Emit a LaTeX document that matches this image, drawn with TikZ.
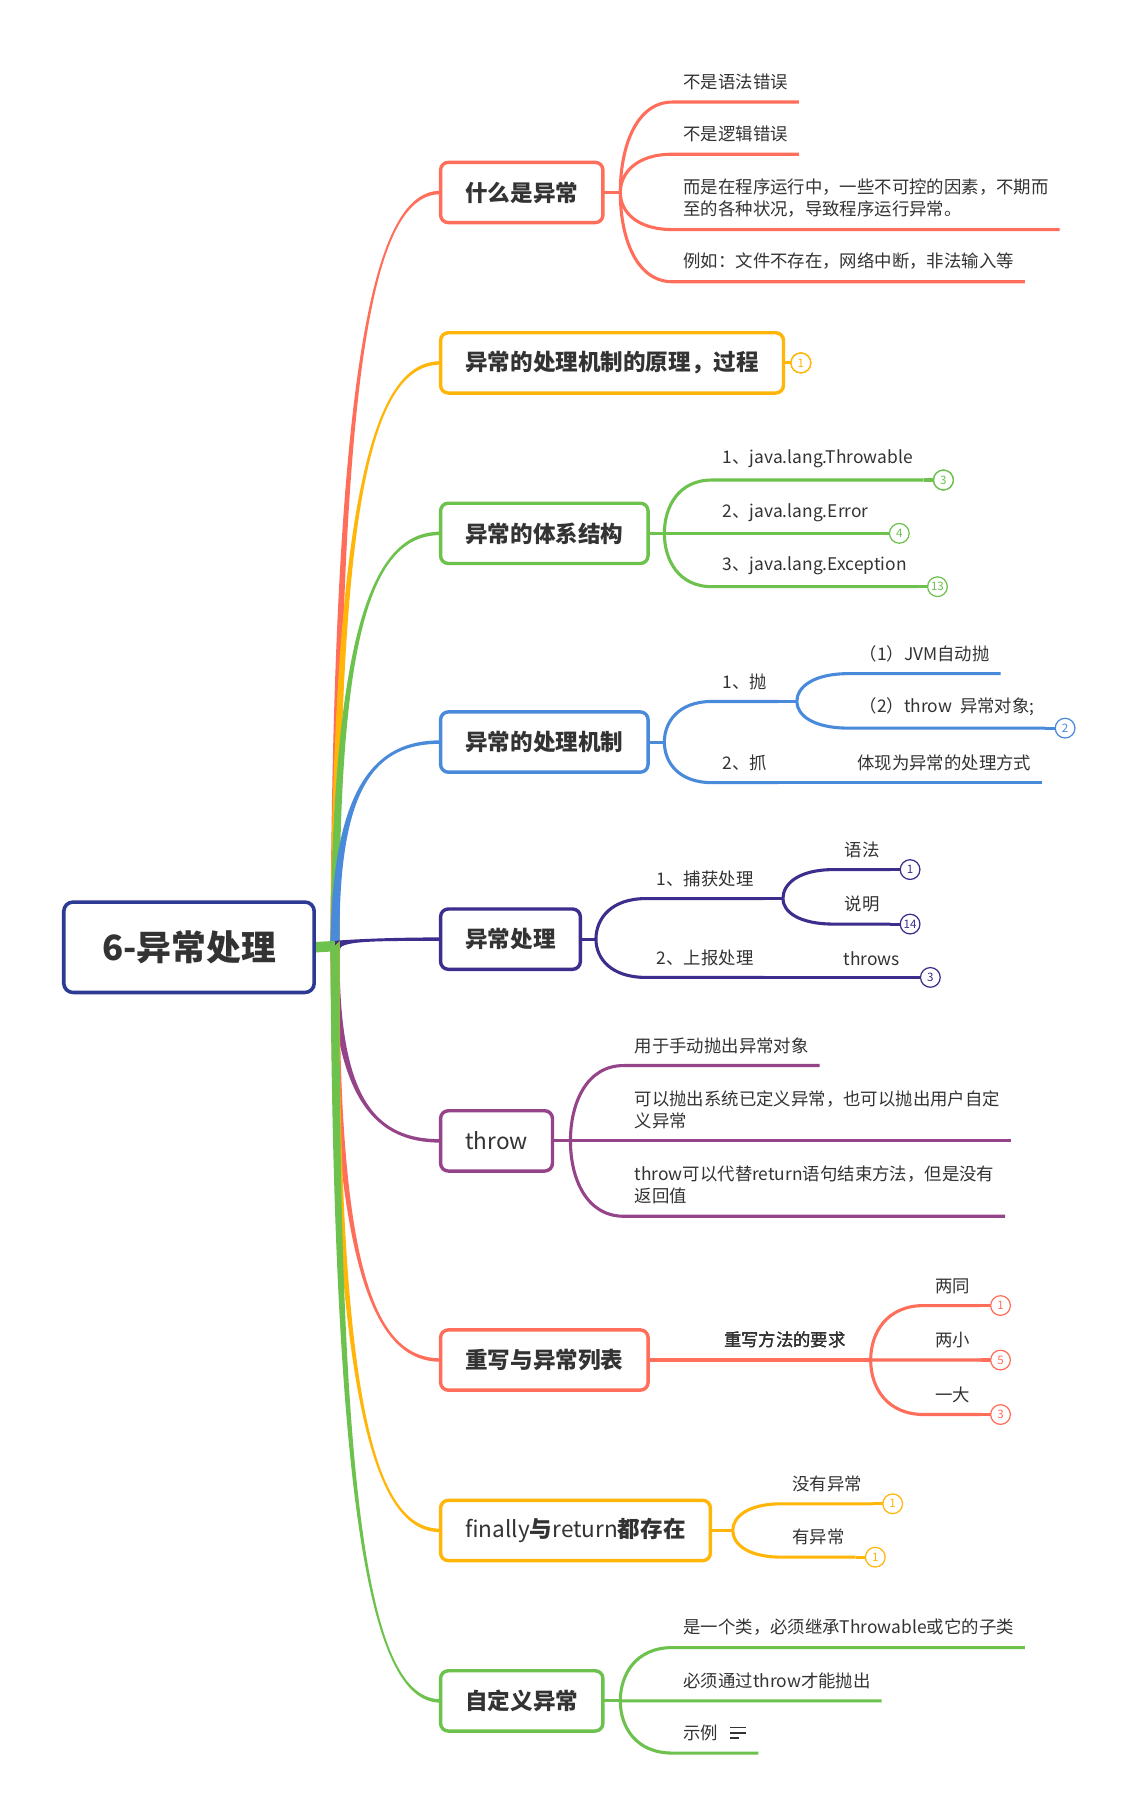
\documentclass[tikz,border=0pt]{standalone}
\usepackage{fontspec}
\setmainfont{Noto Sans CJK SC}
\usetikzlibrary{calc,backgrounds}

\definecolor{inkC}{RGB}{51,51,51}
\definecolor{rootC}{RGB}{44,58,148}
\definecolor{redC}{RGB}{255,110,90}
\definecolor{yellowC}{RGB}{255,182,8}
\definecolor{greenC}{RGB}{108,194,76}
\definecolor{blueC}{RGB}{74,138,218}
\definecolor{indigoC}{RGB}{61,45,140}
\definecolor{purpleC}{RGB}{150,68,138}

%% tapered main branch: colour, topic node, 1 upward / -1 downward
\newcommand{\limb}[3]{%
  \fill[#1] ($(hub)+(-4,{-4*#3})$)
    .. controls ($(hub)!0.8!(hub |- #2.west)+(-1.5,0)$) and ($(#2.west)+(-55,{-1.5*#3})$)
    .. ($(#2.west)+(0,{-1.5*#3})$) -- ($(#2.west)+(0,{1.5*#3})$)
    .. controls ($(#2.west)+(-55,{1.5*#3})$) and ($(hub)!0.8!(hub |- #2.west)+(1.5,0)$)
    .. ($(hub)+(4,{4*#3})$) -- cycle;}
%% rounded elbow from a fork to a leaf, then the leaf's underline
\newcommand{\twig}[3]{%
  \draw[branchLine=#1] (#2)
    .. controls ($(#2)!0.5!(#2 |- #3.south west)$) and ($(#2 |- #3.south west)!0.3!(#3.south west)$)
    .. (#3.south west) -- (#3.south east);}

\begin{document}
\begin{tikzpicture}[%%
  x=0.75pt, y=-0.75pt,
  rootBox/.style={draw=rootC, line width=2.3pt, rounded corners=6pt, fill=white,
    minimum width=162pt, minimum height=58.5pt, outer sep=0pt, text=inkC,
    font=\bfseries\fontsize{22.5}{26}\selectfont},
  mainBox/.style={draw=#1, line width=2.2pt, rounded corners=5pt, fill=white,
    anchor=west, minimum height=39pt, inner xsep=16pt, outer sep=0pt, text=inkC,
    font=\bfseries\fontsize{14.6}{17}\selectfont},
  leafText/.style={anchor=south west, inner xsep=6.9pt, inner ysep=7.5pt,
    align=left, text=inkC, font=\fontsize{11.25}{14.25}\selectfont},
  branchLine/.style={draw=#1, line width=2pt},
  badgeStyle/.style={circle, draw=#1, fill=white, text=#1, line width=0.8pt,
    minimum size=12.75pt, inner sep=0pt, font=\fontsize{7.5}{8}\selectfont},
  iconLine/.style={draw=inkC, line width=0.9pt}
]
\path[use as bounding box] (0,0) rectangle (981,1568);
%%
%% Topics.
\coordinate (hub) at (289,816);
\node[rootBox] (root) at (163,817) {6-异常处理};
\node[mainBox=redC] (what) at (380,166) {什么是异常};
\node[mainBox=yellowC] (proc) at (380,313) {异常的处理机制的原理，过程};
\node[mainBox=greenC] (hier) at (380,460) {异常的体系结构};
\node[mainBox=blueC] (mech) at (380,640) {异常的处理机制};
\node[mainBox=indigoC] (handle) at (380,810) {异常处理};
\node[mainBox=purpleC, font=\fontsize{14.6}{17}\selectfont] (thr) at (380,984) {throw};
\node[mainBox=redC] (over) at (380,1173) {重写与异常列表};
\node[mainBox=yellowC] (fin) at (380,1320) {\mdseries finally\textbf{与}return\textbf{都存在}};
\node[mainBox=greenC] (cust) at (380,1467) {自定义异常};
%%
%% Main branches, behind the boxes.
\begin{scope}[on background layer]
\fill[white] (0,0) rectangle (981,1568);
\limb{redC}{what}{1}
\limb{yellowC}{proc}{1}
\limb{greenC}{hier}{1}
\limb{blueC}{mech}{1}
\limb{indigoC}{handle}{1}
\limb{purpleC}{thr}{-1}
\limb{redC}{over}{-1}
\limb{yellowC}{fin}{-1}
\limb{greenC}{cust}{-1}
\draw[greenC, line width=6.75pt] (root.east) -- (hub);
\end{scope}
%%
%% What is an exception.
\coordinate (whatJ) at (535,166);
\node[leafText] (w1) at (580,88) {不是语法错误};
\node[leafText] (w2) at (580,133) {不是逻辑错误};
\node[leafText] (w3) at (580,198) {而是在程序运行中，一些不可控的因素，不期而\\至的各种状况，导致程序运行异常。};
\node[leafText] (w4) at (580,243) {例如：文件不存在，网络中断，非法输入等};
\draw[branchLine=redC] (what.east) -- (whatJ);
\foreach \leaf in {w1,w2,w3,w4}
  \twig{redC}{whatJ}{\leaf}
%%
%% Principle.
\draw[branchLine=yellowC] (proc.east) -- ++(15,0) node[badgeStyle=yellowC] (procB) {1};
%%
%% Hierarchy.
\coordinate (hierJ) at (573,460);
\node[leafText] (h1) at (614,414) {1、java.lang.Throwable};
\node[leafText] (h2) at (614,460) {2、java.lang.Error};
\node[leafText] (h3) at (614,506) {3、java.lang.Exception};
\draw[branchLine=greenC] (hier.east) -- (hierJ);
\foreach \leaf in {h1,h2,h3}
  \twig{greenC}{hierJ}{\leaf}
\draw[branchLine=greenC] (h1.south east) -- ++(17,0) node[badgeStyle=greenC] (h1B) {3};
\draw[branchLine=greenC] (h2.south east) -- ++(17,0) node[badgeStyle=greenC] (h2B) {4};
\draw[branchLine=greenC] (h3.south east) -- ++(17,0) node[badgeStyle=greenC] (h3B) {13};
%%
%% Mechanism.
\coordinate (mechJ) at (573,640);
\node[leafText] (m1) at (614,605) {1、抛};
\node[leafText] (m2) at (614,675) {2、抓};
\coordinate (m1J) at ($(m1.south east)+(16,0)$);
\node[leafText] (m11) at (732,581) {（1）JVM自动抛};
\node[leafText] (m12) at (732,628) {（2）throw~~异常对象;};
\node[leafText] (m21) at (730,675) {体现为异常的处理方式};
\draw[branchLine=blueC] (mech.east) -- (mechJ);
\foreach \leaf in {m1,m2}
  \twig{blueC}{mechJ}{\leaf}
\draw[branchLine=blueC] (m1.south east) -- (m1J);
\foreach \leaf in {m11,m12}
  \twig{blueC}{m1J}{\leaf}
\draw[branchLine=blueC] (m2.south east) -- (m21.south west) -- (m21.south east);
\draw[branchLine=blueC] (m12.south east) -- ++(17,0) node[badgeStyle=blueC] (m12B) {2};
%%
%% Handling.
\coordinate (handleJ) at (514,810);
\node[leafText] (a1) at (557,775) {1、捕获处理};
\node[leafText] (a2) at (557,843) {2、上报处理};
\coordinate (a1J) at ($(a1.south east)+(16,0)$);
\node[leafText] (a11) at (719,750) {语法};
\node[leafText] (a12) at (719,797) {说明};
\node[leafText] (a21) at (718,843) {throws};
\draw[branchLine=indigoC] (handle.east) -- (handleJ);
\foreach \leaf in {a1,a2}
  \twig{indigoC}{handleJ}{\leaf}
\draw[branchLine=indigoC] (a1.south east) -- (a1J);
\foreach \leaf in {a11,a12}
  \twig{indigoC}{a1J}{\leaf}
\draw[branchLine=indigoC] (a2.south east) -- (a21.south west) -- (a21.south east);
\draw[branchLine=indigoC] (a11.south east) -- ++(17,0) node[badgeStyle=indigoC] (a11B) {1};
\draw[branchLine=indigoC] (a12.south east) -- ++(17,0) node[badgeStyle=indigoC] (a12B) {14};
\draw[branchLine=indigoC] (a21.south east) -- ++(17,0) node[badgeStyle=indigoC] (a21B) {3};
%%
%% throw.
\coordinate (thrJ) at (492,984);
\node[leafText] (t1) at (538,919) {用于手动抛出异常对象};
\node[leafText] (t2) at (538,984) {可以抛出系统已定义异常，也可以抛出用户自定\\义异常};
\node[leafText] (t3) at (538,1049) {throw可以代替return语句结束方法，但是没有\\返回值};
\draw[branchLine=purpleC] (thr.east) -- (thrJ);
\foreach \leaf in {t1,t2,t3}
  \twig{purpleC}{thrJ}{\leaf}
%%
%% Overriding.
\node[leafText] (o0) at (615,1173) {重写方法的要求};
\coordinate (overJ) at ($(o0.south east)+(12,0)$);
\node[leafText] (o1) at (797,1126) {两同};
\node[leafText] (o2) at (797,1173) {两小};
\node[leafText] (o3) at (797,1220) {一大};
\draw[branchLine=redC] (over.east) -- (o0.south west) -- (overJ);
\foreach \leaf/\num in {o1/1,o2/5,o3/3}{
  \twig{redC}{overJ}{\leaf}
  \draw[branchLine=redC] (\leaf.south east) -- ++(17,0) node[badgeStyle=redC] (\leaf B) {\num};
}
%%
%% finally and return.
\coordinate (finJ) at (632,1320);
\node[leafText] (f1) at (674,1297) {没有异常};
\node[leafText] (f2) at (674,1343) {有异常};
\draw[branchLine=yellowC] (fin.east) -- (finJ);
\foreach \leaf in {f1,f2}{
  \twig{yellowC}{finJ}{\leaf}
  \draw[branchLine=yellowC] (\leaf.south east) -- ++(17,0) node[badgeStyle=yellowC] (\leaf B) {1};
}
%%
%% Custom exception.
\coordinate (custJ) at (535,1467);
\node[leafText] (c1) at (580,1421) {是一个类，必须继承Throwable或它的子类};
\node[leafText] (c2) at (580,1467) {必须通过throw才能抛出};
\node[leafText] (c3) at (580,1512) {示例\hspace{1.67em}};
\draw[branchLine=greenC] (cust.east) -- (custJ);
\foreach \leaf in {c1,c2,c3}
  \twig{greenC}{custJ}{\leaf}
%% Note icon.
\draw[iconLine] ($(c3.south east)+(-24,-22)$) -- ++(13,0);
\draw[iconLine] ($(c3.south east)+(-24,-17.5)$) -- ++(13,0);
\draw[iconLine] ($(c3.south east)+(-24,-13)$) -- ++(7,0);
\end{tikzpicture}
\end{document}
